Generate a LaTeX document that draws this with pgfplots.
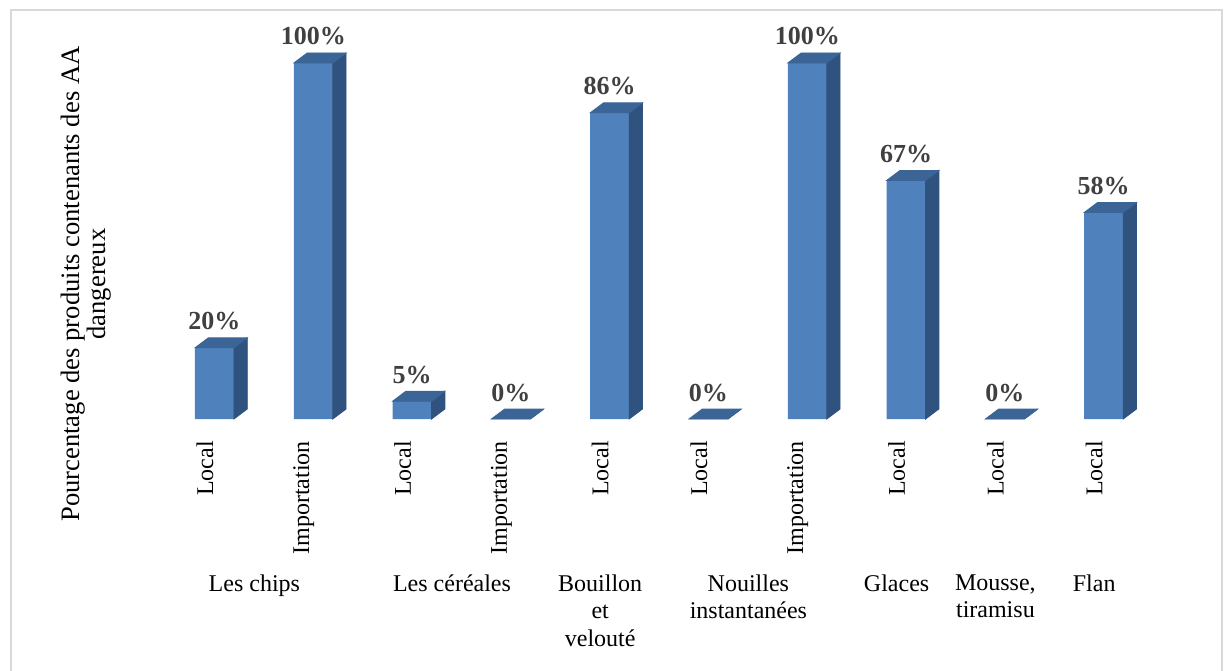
\documentclass[border=0pt]{standalone}
\usepackage{fontspec}
\setmainfont{Liberation Serif}
\usepackage{graphicx}
\usepackage{pgfplots}
\pgfplotsset{compat=1.18}

\definecolor{frontcol}{HTML}{4F81BD}
\definecolor{sidecol}{HTML}{30527F}
\definecolor{topcol}{HTML}{3B6497}
\definecolor{labelcol}{HTML}{404040}
\definecolor{framecol}{HTML}{D9D9D9}

% empty mark: the 3D faces are drawn by the scatter code instead
\pgfdeclareplotmark{nomark}{}

\begin{document}
\begin{tikzpicture}
\useasboundingbox (0,0) rectangle (613pt,335pt);
\draw[framecol, line width=0.75pt] (5.5pt,-5pt) -- (5.5pt,330pt) -- (611pt,330pt) -- (611pt,-5pt);

\begin{axis}[
  at={(77.6pt,125.5pt)}, anchor=south west,
  x=49.4pt, y=1.78pt,
  xmin=-0.6, xmax=9.6, ymin=0, ymax=105,
  clip=false,
  axis line style={draw=none},
  major tick length=0pt,
  tick style={draw=none},
  ytick=\empty,
  xtick={-0.096,0.904,1.904,2.904,3.904,4.904,5.904,6.904,7.904,8.904},
  xticklabels={\rotatebox{90}{Local},\rotatebox{90}{Importation},
               \rotatebox{90}{Local},\rotatebox{90}{Importation},
               \rotatebox{90}{Local},
               \rotatebox{90}{Local},\rotatebox{90}{Importation},
               \rotatebox{90}{Local},\rotatebox{90}{Local},\rotatebox{90}{Local}},
  xticklabel style={anchor=north, yshift=-7.5pt, font=\fontsize{12}{13.75}\selectfont, text=black},
  extra x ticks={0.404,2.404,3.904,5.404,6.904,7.904,8.904},
  extra x tick labels={Les chips, Les céréales, {Bouillon\\et\\velouté},
                       {Nouilles\\instantanées}, Glaces, {Mousse,\\tiramisu}, Flan},
  extra x tick style={xticklabel style={yshift=-66.65pt, align=center}},
  ylabel={Pourcentage des produits contenants des AA\\dangereux},
  every axis y label/.style={at={(axis description cs:-0.0687,0.361)}, rotate=90,
    anchor=center, align=center, font=\fontsize{13.3}{13.3}\selectfont},
]
% front faces of the bars
\addplot[ybar, bar width=19.5pt, bar shift=0pt, fill=frontcol, draw=none]
  coordinates {(0,20) (1,100) (2,5) (3,0) (4,86) (5,0) (6,100) (7,67) (8,0) (9,58)};

% side and top faces of the bars
\addplot[
  only marks, mark=nomark, scatter,
  visualization depends on={rawy \as \barval},
  scatter/@pre marker code/.code={%
    \pgfmathsetmacro\barh{-\barval*1.78}%
    \pgfmathsetmacro\barb{5-\barval*1.78}%
    \fill[sidecol] (9.75pt,0pt) -- (16.4pt,5pt) -- (16.4pt,\barb pt) -- (9.75pt,\barh pt) -- cycle;
    \fill[topcol] (-9.75pt,0pt) -- (9.75pt,0pt) -- (16.4pt,5pt) -- (-3.1pt,5pt) -- cycle;
  },
  scatter/@post marker code/.code={},
]
  coordinates {(0,20) (1,100) (2,5) (3,0) (4,86) (5,0) (6,100) (7,67) (8,0) (9,58)};

% value labels
\addplot[
  only marks, mark=nomark,
  point meta=y,
  nodes near coords={\textbf{\pgfmathprintnumber[assume math mode=true]{\pgfplotspointmeta}\%}},
  nodes near coords style={anchor=base, yshift=9pt, inner sep=0pt,
    font=\fontsize{13}{13}\selectfont\bfseries, text=labelcol},
]
  coordinates {(0,20) (1,100) (2,5) (3,0) (4,86) (5,0) (6,100) (7,67) (8,0) (9,58)};
\end{axis}
\end{tikzpicture}
\end{document}
